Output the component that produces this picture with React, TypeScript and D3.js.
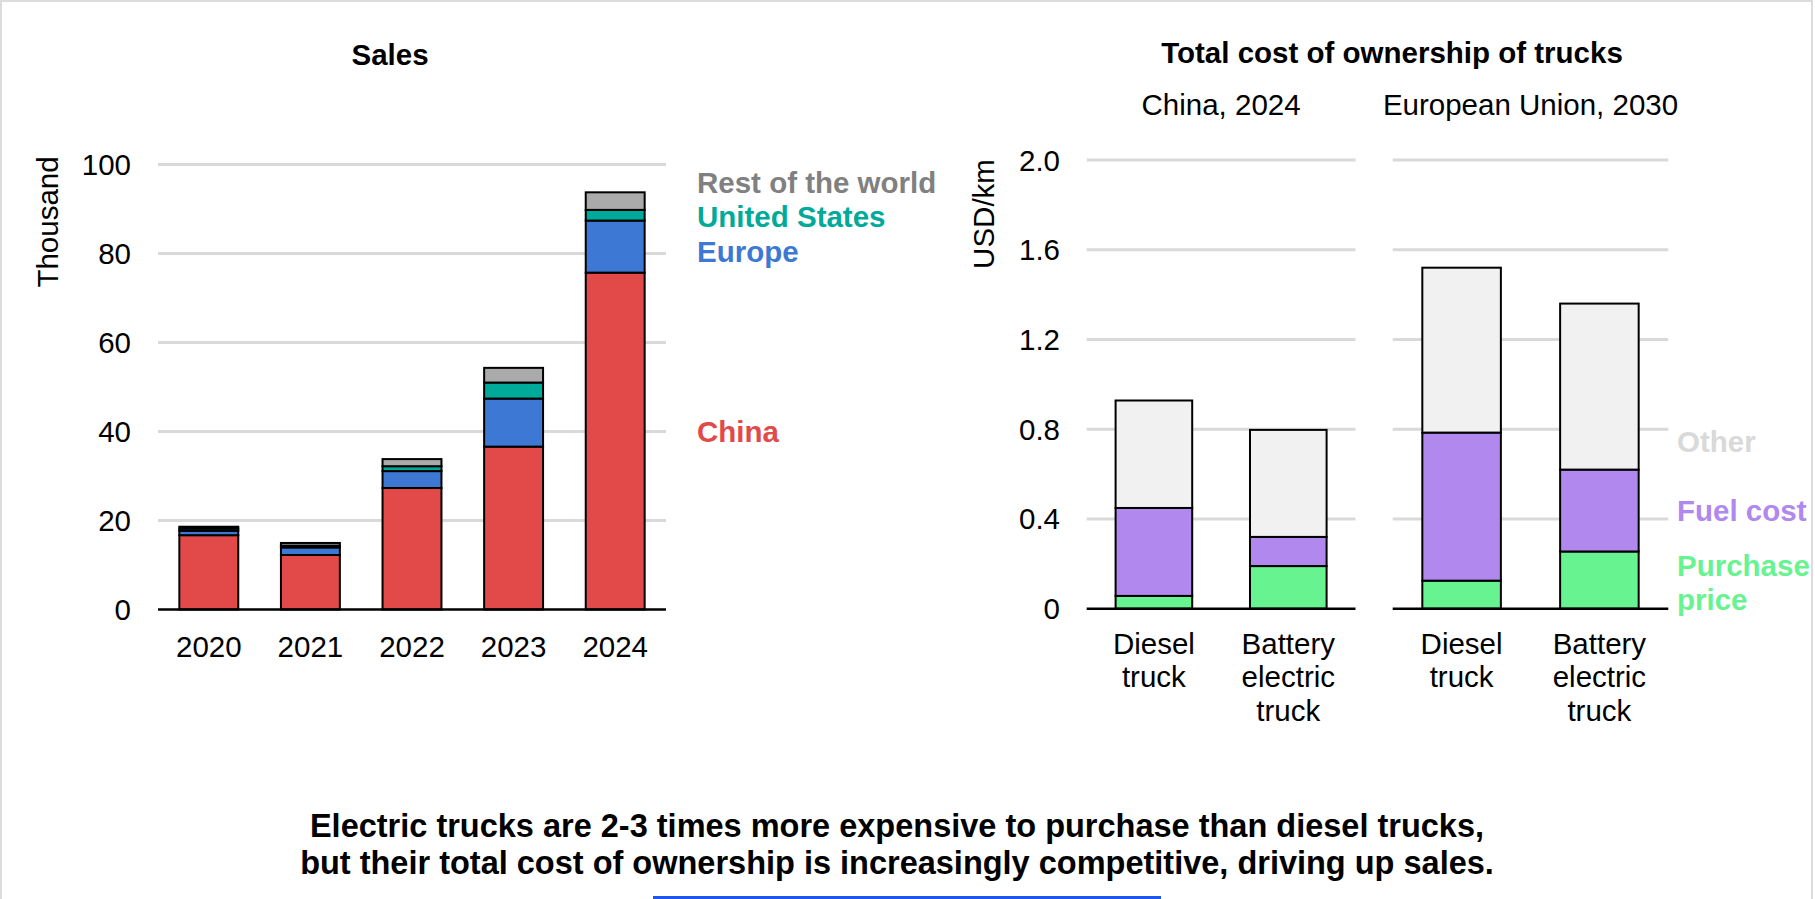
import React from 'react';
import * as d3 from 'd3';

// Electric truck sales by region (thousand units)
const years = ['2020', '2021', '2022', '2023', '2024'];
const china = [16.7, 12.25, 27.3, 36.6, 75.7];
const europe = [1.0, 1.7, 3.8, 10.8, 11.7];
const unitedStates = [0.5, 0.4, 1.1, 3.6, 2.4];
const restOfWorld = [0.4, 0.6, 1.6, 3.3, 3.95];
const salesTicks = [0, 20, 40, 60, 80, 100];

const regionKeys = ['China', 'Europe', 'United States', 'Rest of the world'];
const regionColors = ['#e24a4a', '#3d79d4', '#00aa9a', '#aaaaaa'];
const regionLabelColors = ['#e24a4a', '#3d79d4', '#00aa9a', '#808080'];

// Total cost of ownership (USD/km)
const tcoPanels = ['China, 2024', 'European Union, 2030'];
const truckTypes = ['Diesel truck', 'Battery electric truck'];
const purchasePrice = [[0.057, 0.19], [0.125, 0.255]];
const fuelCost = [[0.392, 0.13], [0.66, 0.365]];
const otherCost = [[0.479, 0.477], [0.735, 0.74]];
const tcoTicks = [0, 0.4, 0.8, 1.2, 1.6, 2.0];

const costKeys = ['Purchase price', 'Fuel cost', 'Other'];
const costColors = ['#67f390', '#b088ee', '#f1f1f1'];
const costLabelColors = ['#67f390', '#b088ee', '#d9d9d9'];

const FONT = '"Liberation Sans", Arial, sans-serif';
const FS = 29.5;

export default function App() {
  // ---- Sales panel ----
  const xL = d3.scaleBand<string>().domain(years).range([158, 666]).paddingInner(0.42).paddingOuter(0.21);
  const yL = d3.scaleLinear().domain([0, 100]).range([609.5, 164.5]);
  const salesRows = years.map((y, i) => ({
    year: y,
    China: china[i],
    Europe: europe[i],
    'United States': unitedStates[i],
    'Rest of the world': restOfWorld[i],
  }));
  const salesStack = d3.stack<any>().keys(regionKeys)(salesRows);

  // label baselines in value space for the right-hand region labels
  const regionLabelAt = [37.7, 78.2, 85.9, 93.5];

  // ---- TCO panels ----
  const yR = d3.scaleLinear().domain([0, 2]).range([608.7, 160]);
  const panelRanges: [number, number][] = [[1086.7, 1355.5], [1392.7, 1668.3]];
  const panelScales = panelRanges.map((r) =>
    d3.scaleBand<string>().domain(truckTypes).range(r).paddingInner(0.43).paddingOuter(0.215)
  );
  const tcoStacks = tcoPanels.map((_, p) => {
    const rows = truckTypes.map((t, i) => ({
      type: t,
      'Purchase price': purchasePrice[p][i],
      'Fuel cost': fuelCost[p][i],
      Other: otherCost[p][i],
    }));
    return d3.stack<any>().keys(costKeys)(rows);
  });
  const costLabelLines = [['Purchase', 'price'], ['Fuel cost'], ['Other']];
  const costLabelAt = [0.146, 0.392, 0.70];

  return (
    <svg
      width={1815}
      height={899}
      style={{ position: 'absolute', left: 0, top: 0, background: '#fff', fontFamily: FONT }}
    >
      <rect x={1} y={1} width={1811} height={1000} fill="#fff" stroke="#dcdcdc" strokeWidth={2} />

      {/* Sales */}
      <text x={390} y={65} textAnchor="middle" fontSize={FS} fontWeight="bold" fill="#000">Sales</text>
      <text transform={`translate(58,222) rotate(-90)`} textAnchor="middle" fontSize={FS} fill="#000">Thousand</text>
      {salesTicks.map((t) => (
        <g key={t}>
          {t > 0 && (
            <line x1={158} x2={666} y1={yL(t)} y2={yL(t)} stroke="#d9d9d9" strokeWidth={3} />
          )}
          <text x={131} y={yL(t) + 10.5} textAnchor="end" fontSize={FS} fill="#000">{t}</text>
        </g>
      ))}
      {salesStack.map((layer, k) => (
        <g key={layer.key}>
          {layer.map((d, i) => (
            <rect
              key={i}
              x={xL(years[i])}
              y={yL(d[1])}
              width={xL.bandwidth()}
              height={yL(d[0]) - yL(d[1])}
              fill={regionColors[k]}
              stroke="#000"
              strokeWidth={2}
            />
          ))}
        </g>
      ))}
      <line x1={158} x2={666} y1={yL(0)} y2={yL(0)} stroke="#000" strokeWidth={2.5} />
      {years.map((y) => (
        <text key={y} x={(xL(y) as number) + xL.bandwidth() / 2} y={yL(0) + 47.5} textAnchor="middle" fontSize={FS} fill="#000">
          {y}
        </text>
      ))}
      {regionKeys.map((k, i) => (
        <text key={k} x={697} y={yL(regionLabelAt[i])} fontSize={FS} fontWeight="bold" fill={regionLabelColors[i]}>
          {k}
        </text>
      ))}

      {/* Total cost of ownership */}
      <text x={1392} y={63} textAnchor="middle" fontSize={FS} fontWeight="bold" fill="#000">
        Total cost of ownership of trucks
      </text>
      <text transform={`translate(994,214) rotate(-90)`} textAnchor="middle" fontSize={FS} fill="#000">USD/km</text>
      {tcoTicks.map((t) => (
        <text key={t} x={1060} y={yR(t) + 10.5} textAnchor="end" fontSize={FS} fill="#000">
          {t === 0 ? '0' : t.toFixed(1)}
        </text>
      ))}
      {tcoPanels.map((name, p) => {
        const xs = panelScales[p];
        const [r0, r1] = panelRanges[p];
        return (
          <g key={name}>
            <text x={(r0 + r1) / 2} y={115} textAnchor="middle" fontSize={FS} fill="#000">{name}</text>
            {tcoTicks.filter((t) => t > 0).map((t) => (
              <line key={t} x1={r0} x2={r1} y1={yR(t)} y2={yR(t)} stroke="#d9d9d9" strokeWidth={3} />
            ))}
            {tcoStacks[p].map((layer, k) => (
              <g key={layer.key}>
                {layer.map((d, i) => (
                  <rect
                    key={i}
                    x={xs(truckTypes[i])}
                    y={yR(d[1])}
                    width={xs.bandwidth()}
                    height={yR(d[0]) - yR(d[1])}
                    fill={costColors[k]}
                    stroke="#000"
                    strokeWidth={2}
                  />
                ))}
              </g>
            ))}
            <line x1={r0} x2={r1} y1={yR(0)} y2={yR(0)} stroke="#000" strokeWidth={2.5} />
            {truckTypes.map((t) => (
              <text key={t} textAnchor="middle" fontSize={FS} fill="#000">
                {t.split(' ').map((w, j) => (
                  <tspan key={j} x={(xs(t) as number) + xs.bandwidth() / 2} y={yR(0) + 45 + j * 33.5}>
                    {w}
                  </tspan>
                ))}
              </text>
            ))}
          </g>
        );
      })}
      {costKeys.map((k, i) => (
        <text key={k} fontSize={FS} fontWeight="bold" fill={costLabelColors[i]}>
          {costLabelLines[i].map((w, j) => (
            <tspan key={j} x={1677} y={yR(costLabelAt[i]) + j * 34}>{w}</tspan>
          ))}
        </text>
      ))}

      {/* Caption */}
      <text x={897} y={837} textAnchor="middle" fontSize={32.5} fontWeight="bold" fill="#000">
        Electric trucks are 2-3 times more expensive to purchase than diesel trucks,
      </text>
      <text x={897} y={873.5} textAnchor="middle" fontSize={32.5} fontWeight="bold" fill="#000">
        but their total cost of ownership is increasingly competitive, driving up sales.
      </text>
      <rect x={653} y={896} width={508} height={3} fill="#1f57ee" />
    </svg>
  );
}
